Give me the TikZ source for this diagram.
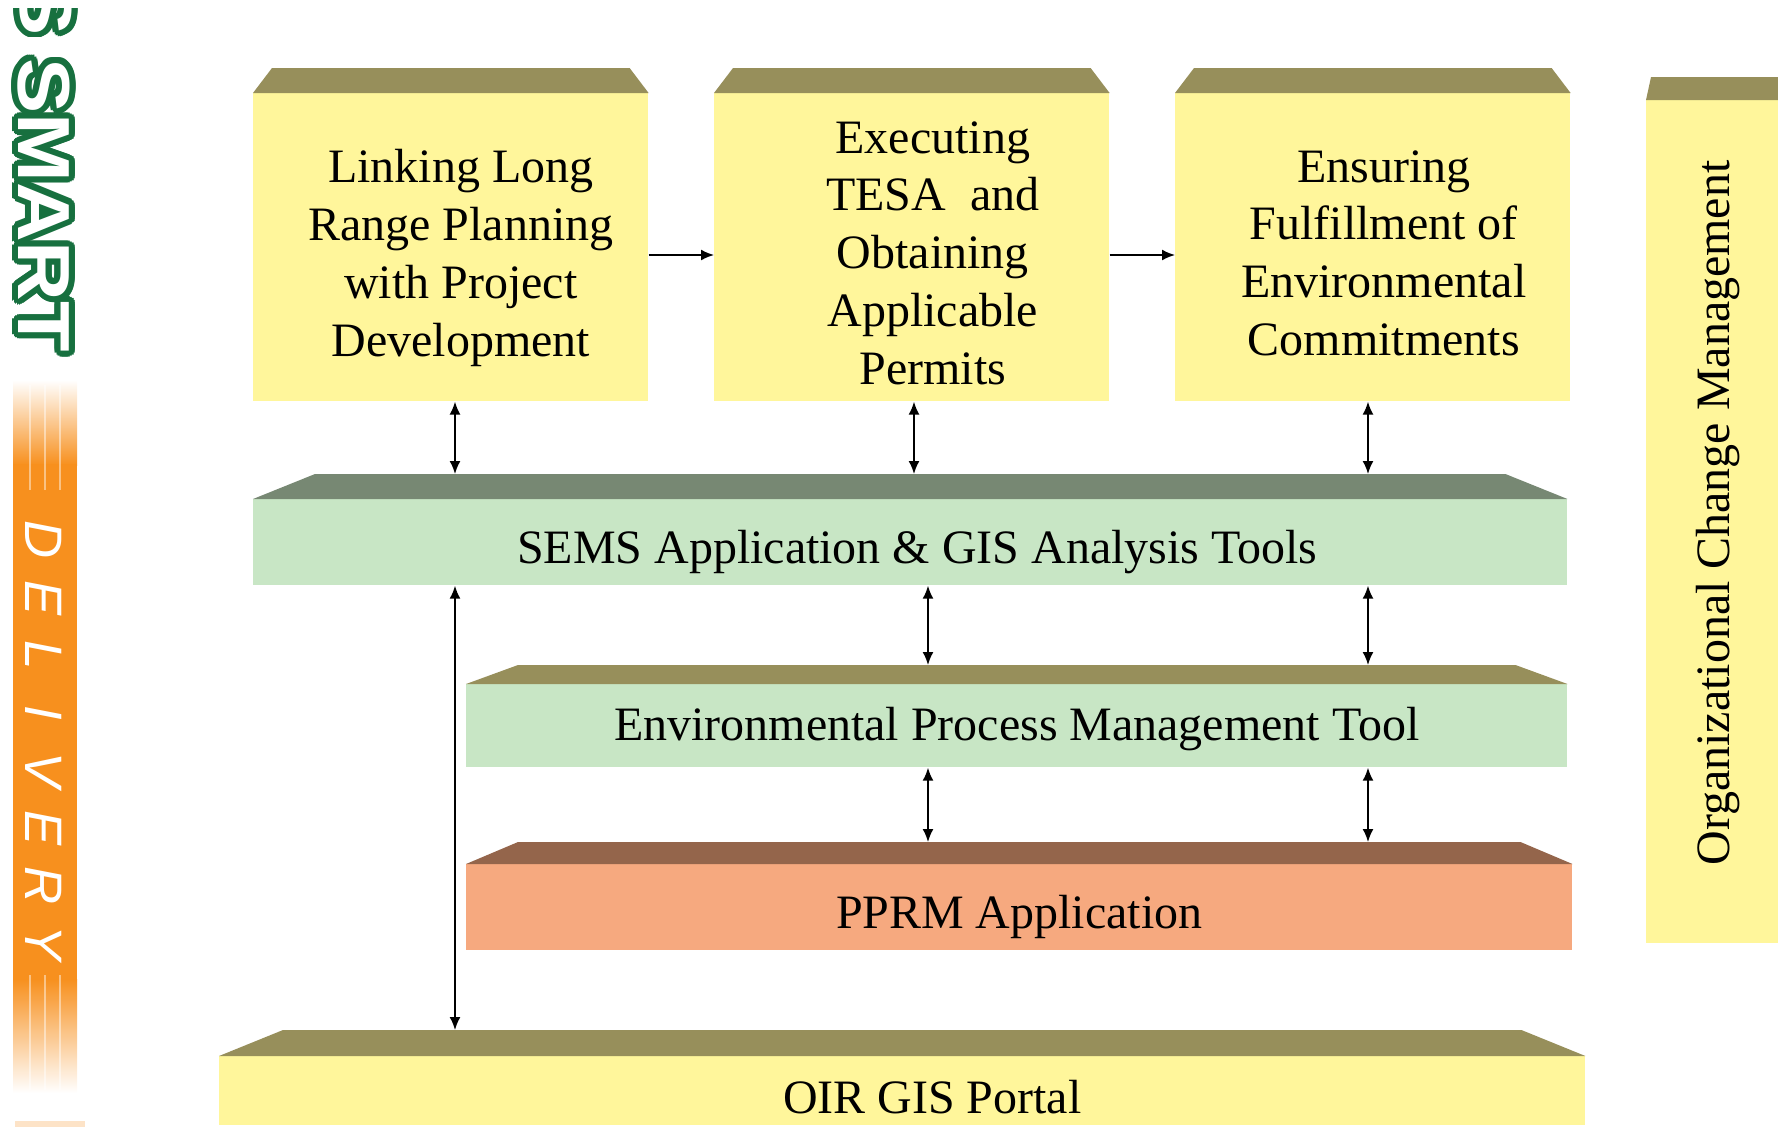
\documentclass[tikz,border=0pt]{standalone}
\usepackage{fontspec}
\setmainfont{Liberation Serif}
\newfontfamily\smartfont{Liberation Sans}
\newfontfamily\smartwide[FakeStretch=1.12]{Liberation Sans}
\usetikzlibrary{arrows.meta,calc}

\definecolor{boxyellow}{HTML}{FFF69B}
\definecolor{bevelolive}{HTML}{978F5B}
\definecolor{barmint}{HTML}{C8E6C5}
\definecolor{bevelgreen}{HTML}{778873}
\definecolor{barsalmon}{HTML}{F6A97F}
\definecolor{bevelbrown}{HTML}{94654B}
\definecolor{bandorange}{HTML}{F7901E}
\definecolor{smartgreen}{HTML}{17703F}

% скошенная крышка над узлом: узел, отступ, высота, цвет
\newcommand{\bevel}[4]{%
  \fill [#4] (#1.north west) -- ++( #2, -#3 ) -- ($ (#1.north east) + ( -#2, -#3 ) $) -- (#1.north east) -- cycle;
  \coordinate (#1-top) at ($ (#1.north) + ( 0, -#3 ) $);
}

\begin{document}
\begin{tikzpicture}[x=0.02cm, y=-0.02cm,
    box/.style={ rectangle, fill=boxyellow, anchor=north west, inner sep=0,
                 minimum width=7.9cm, minimum height=6.16cm },
    bar/.style={ rectangle, anchor=north west, inner sep=0 },
    label/.style={ align=center, inner sep=0, font=\fontsize{27.3}{33}\selectfont },
    link/.style={ {Latex[length=0.26cm,width=0.22cm]}-{Latex[length=0.26cm,width=0.22cm]}, line width=1pt },
    flow/.style={ -{Latex[length=0.26cm,width=0.22cm]}, line width=1pt },
    smart/.style={ rotate=-90, inner sep=0, font=\smartwide\bfseries\fontsize{42}{42}\selectfont },
    deliv/.style={ rotate=-90, inner sep=0, text=white, font=\smartfont\itshape\fontsize{30}{30}\selectfont }
]
    \useasboundingbox ( 0, 0 ) rectangle ( 1778, 1127 );
    \clip ( 0, 0 ) rectangle ( 1778, 1127 );

    % полоса слева
    \shade [top color=white, bottom color=bandorange] ( 13, 380 ) rectangle ( 77, 465 );
    \fill [bandorange] ( 13, 464 ) rectangle ( 77, 980 );
    \shade [top color=bandorange, bottom color=white] ( 13, 979 ) rectangle ( 77, 1093 );
    \fill [bandorange!25] ( 15, 1121 ) rectangle ( 85, 1127 );
    \foreach \x in { 30, 45, 60 } {
        \draw [white, opacity=0.45, line width=1.2pt] ( \x, 385 ) -- ( \x, 490 );
        \draw [white, opacity=0.45, line width=1.2pt] ( \x, 975 ) -- ( \x, 1090 );
    }
    \foreach \ch [count=\i from 0] in { D, E, L, I, V, E, R, Y }
        \node [deliv] (deliv\i) at ( 44, {540 + 57.6*\i} ) {\ch};

    % SMART
    \begin{scope}
        \clip ( 0, 8 ) rectangle ( 100, 36 );
        \foreach \a in { 0, 20, ..., 340 }
            \node [smart, text=smartgreen] (part\a) at ($ ( 46, 8 ) + ( \a:6 ) $) {S};
        \node [smart, text=white] (part) at ( 46, 8 ) {S};
    \end{scope}
    \foreach \a in { 0, 20, ..., 340 }
        \node [smart, text=smartgreen] (smart\a) at ($ ( 44, 205 ) + ( \a:6 ) $) {SMART};
    \node [smart, text=white] (smart) at ( 44, 205 ) {SMART};

    % верхние блоки
    \node [box] (b1) at ( 253, 93 ) {};
    \node [box] (b2) at ( 714, 93 ) {};
    \node [box] (b3) at ( 1175, 93 ) {};
    \bevel{b1}{19}{25}{bevelolive}
    \bevel{b2}{19}{25}{bevelolive}
    \bevel{b3}{19}{25}{bevelolive}
    \node [label] (b1-text) at ($ (b1.center) + ( 10, 11 ) $) {Linking Long\\Range Planning\\with Project\\Development};
    \node [label] (b2-text) at ($ (b2.center) + ( 21, 6 ) $) {Executing\\TESA\ \ and\\Obtaining\\Applicable\\Permits};
    \node [label] (b3-text) at ($ (b3.center) + ( 11, 6 ) $) {Ensuring\\Fulfillment of\\Environmental\\Commitments};

    % блок справа
    \node [box, minimum width=3.2cm, minimum height=16.86cm] (ocm) at ( 1646, 100 ) {};
    \bevel{ocm}{5}{23}{bevelolive}
    \node [label, rotate=90] (ocm-text) at ( 1718, 513 ) {Organizational Change Management};

    % полосы
    \node [bar, fill=barmint, minimum width=26.28cm, minimum height=1.72cm] (sems) at ( 253, 499 ) {};
    \node [bar, fill=barmint, minimum width=22.02cm, minimum height=1.66cm] (epm) at ( 466, 684 ) {};
    \node [bar, fill=barsalmon, minimum width=22.12cm, minimum height=1.72cm] (pprm) at ( 466, 864 ) {};
    \node [bar, fill=boxyellow, minimum width=27.32cm, minimum height=1.38cm] (oir) at ( 219, 1056 ) {};
    \bevel{sems}{62}{25}{bevelgreen}
    \bevel{epm}{52}{19}{bevelolive}
    \bevel{pprm}{52}{22}{bevelbrown}
    \bevel{oir}{64}{26}{bevelolive}
    \node [label] (sems-text) at ($ (sems.center) + ( 7, 10 ) $) {SEMS Application \& GIS Analysis Tools};
    \node [label] (epm-text) at ($ (epm.center) + ( 0, 3 ) $) {Environmental Process Management Tool};
    \node [label] (pprm-text) at ($ (pprm.center) + ( 0, 10 ) $) {PPRM Application};
    \node [label] (oir-text) at ($ (oir.center) + ( 30, 6 ) $) {OIR GIS Portal};

    % стрелки
    \coordinate (row) at ( 0, 255 );
    \coordinate (c1) at ( 455, 0 );
    \coordinate (c2) at ( 914, 0 );
    \coordinate (c3) at ( 928, 0 );
    \coordinate (c4) at ( 1368, 0 );
    \draw [flow] (b1.east |- row) -- (b2.west |- row);
    \draw [flow] (b2.east |- row) -- (b3.west |- row);

    \draw [link] (c1 |- b1.south) -- (c1 |- sems-top);
    \draw [link] (c2 |- b2.south) -- (c2 |- sems-top);
    \draw [link] (c4 |- b3.south) -- (c4 |- sems-top);

    \draw [link] (c3 |- sems.south) -- (c3 |- epm-top);
    \draw [link] (c4 |- sems.south) -- (c4 |- epm-top);
    \draw [link] (c3 |- epm.south) -- (c3 |- pprm-top);
    \draw [link] (c4 |- epm.south) -- (c4 |- pprm-top);

    \draw [link] (c1 |- sems.south) -- (c1 |- oir-top);
\end{tikzpicture}
\end{document}
